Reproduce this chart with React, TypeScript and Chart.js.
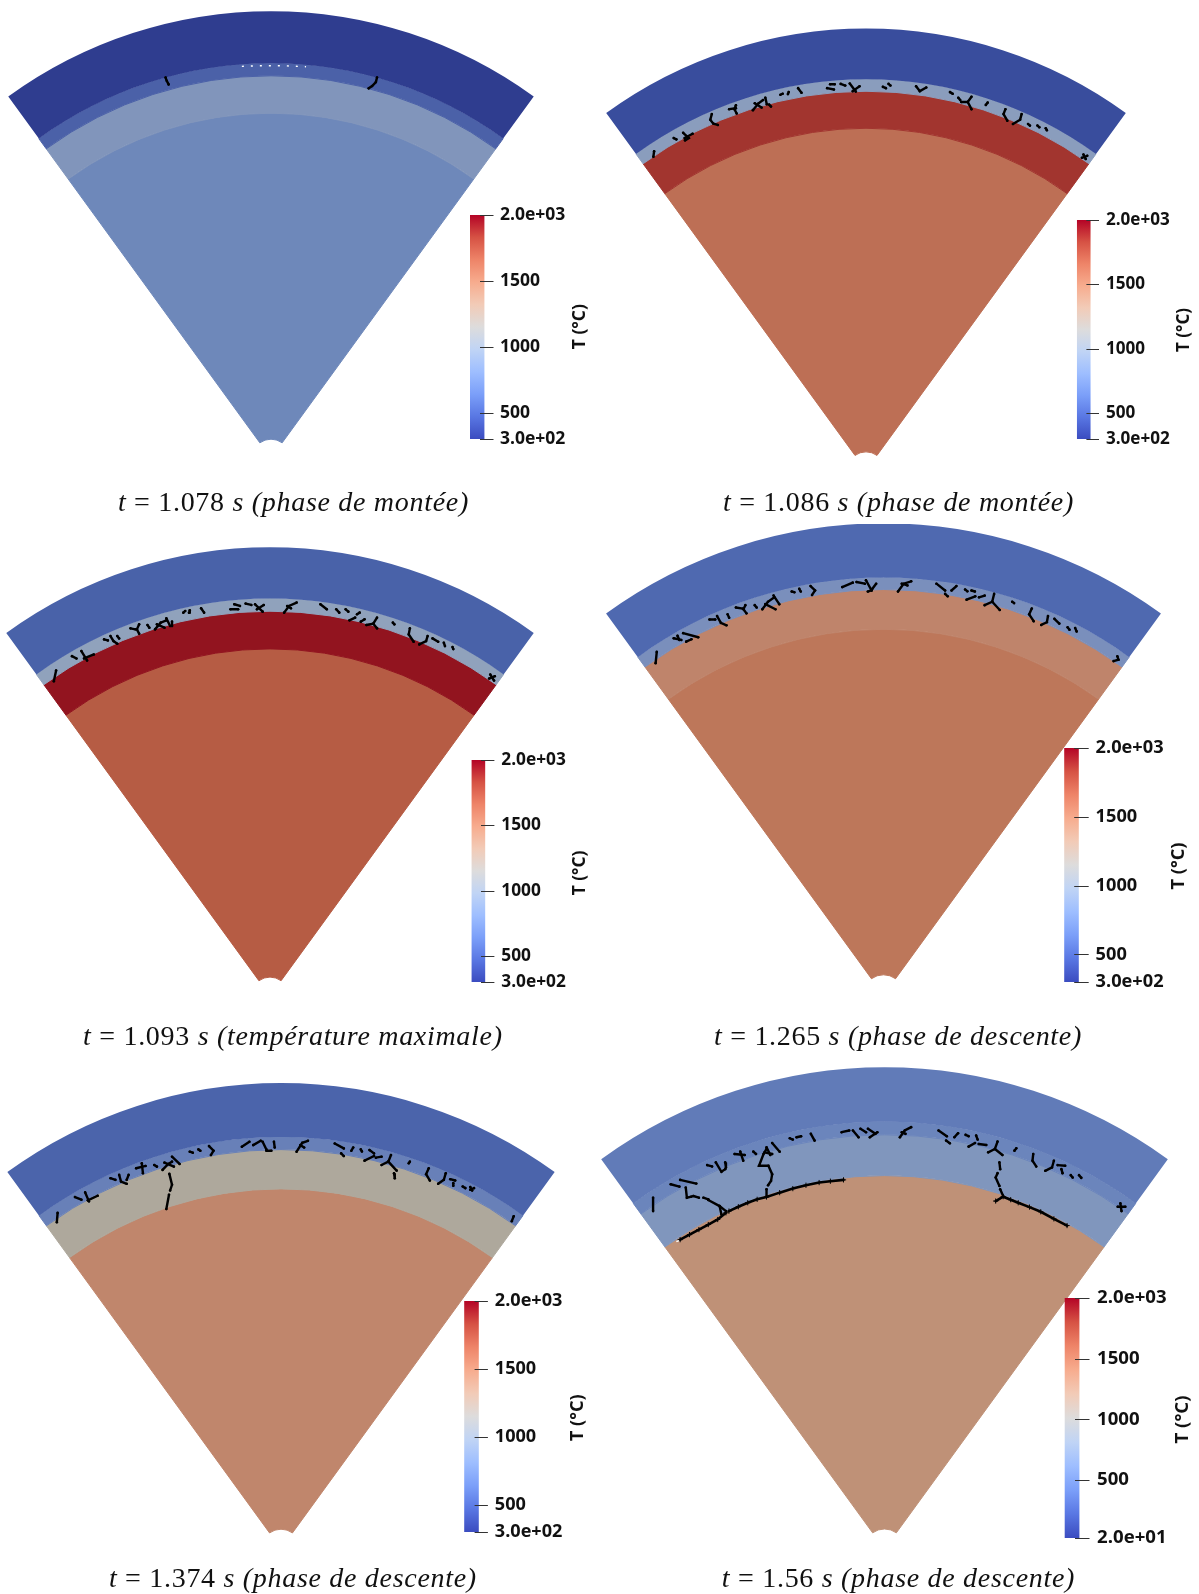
import React, { useEffect, useRef } from "react";
import { Chart, registerables } from "chart.js";

Chart.register(...registerables);

// ---------- data ----------
// ring boundaries: distance from the sector's centre, outermost first
const ringBoundaries1 = [447, 395, 382.4, 345, 19];
const ringBoundaries2 = [442, 391.3, 379.3, 342.3, 18.7];
const ringBoundaries3 = [448.7, 397.4, 384.8, 347.1, 18.9];
const ringBoundaries4 = [472, 417.9, 405.8, 366, 20.5];
const ringBoundaries5 = [465.6, 411.6, 399.1, 359.8, 19.5];
const ringBoundaries6 = [482, 427.4, 414.4, 373.6, 20.2];

const ringColours1 = ["#2f3d8f", "#4b61a8", "#8195bb", "#6e88ba"];
const ringColours2 = ["#394d9d", "#8a9dbd", "#a2352f", "#bd6f55"];
const ringColours3 = ["#4962a9", "#90a2bc", "#92141f", "#b65c44"];
const ringColours4 = ["#4f69b0", "#7a8fbc", "#bf846b", "#bd775a"];
const ringColours5 = ["#4b64ab", "#6880b8", "#aea89c", "#c0866c"];
const ringColours6 = ["#617bb8", "#6b85bc", "#8096bd", "#bf9177"];

const tickValues = [300, 500, 1000, 1500, 2000];
const tickLabels = ["3.0e+02", "500", "1000", "1500", "2.0e+03"];
const tickValuesLast = [20, 500, 1000, 1500, 2000];
const tickLabelsLast = ["2.0e+01", "500", "1000", "1500", "2.0e+03"];
const barTitle = "T (°C)";

const coolWarmStops = ["#3b4cc0", "#5977e3", "#7b9ff9", "#9ebeff", "#c0d4f5", "#dddcdc", "#f2cbb7", "#f7ac8e", "#ee8468", "#d65244", "#b40426"];

const captionValues = ["1.078", "1.086", "1.093", "1.265", "1.374", "1.56"];
const captionPhases = ["(phase de montée)", "(phase de montée)", "(température maximale)", "(phase de descente)", "(phase de descente)", "(phase de descente)"];

// cracks: polylines in image units of each panel's crop
const cracks1 = [
  [[428, 224], [431, 234], [436, 245]],
  [[988, 224], [985, 238], [975, 250], [966, 257]],
];
const cracks2 = [
  [[133, 418], [131, 435]],
  [[185, 378], [192, 382]], [[210, 362], [225, 378], [215, 385]], [[235, 365], [214, 378]],
  [[286, 305], [282, 322], [290, 334], [302, 338]],
  [[332, 290], [350, 287]], [[350, 278], [346, 290], [352, 303]],
  [[395, 293], [410, 272], [422, 262]], [[400, 272], [418, 285]], [[428, 255], [432, 275]], [[438, 276], [443, 282]],
  [[468, 246], [474, 243]], [[490, 238], [488, 244]], [[515, 226], [524, 240]],
  [[592, 226], [610, 230]], [[600, 214], [612, 214]], [[628, 213], [640, 218]], [[652, 212], [668, 236]], [[678, 220], [660, 235]],
  [[740, 222], [748, 226]], [[755, 213], [760, 218]],
  [[828, 220], [838, 235], [855, 224]],
  [[918, 238], [925, 243]], [[940, 255], [945, 262]],
  [[975, 252], [965, 268]], [[948, 268], [965, 268], [975, 290]],
  [[1018, 270], [1013, 277]],
  [[1065, 290], [1060, 305], [1070, 325]], [[1108, 305], [1104, 322], [1085, 335]],
  [[1125, 335], [1130, 340]], [[1150, 340], [1155, 345]], [[1172, 348], [1175, 354]],
  [[1272, 428], [1278, 442]], [[1268, 438], [1282, 432]],
];
const cracks3 = [
  [[138, 408], [132, 440]],
  [[180, 365], [192, 372]], [[205, 350], [220, 378]], [[238, 360], [212, 372]],
  [[265, 315], [275, 318]], [[282, 305], [290, 320], [300, 328]], [[300, 305], [305, 312]],
  [[335, 282], [348, 285]], [[358, 270], [352, 285], [358, 298]], [[380, 272], [385, 280]],
  [[400, 285], [415, 265], [430, 258]], [[405, 270], [425, 280]], [[430, 252], [440, 275]], [[445, 262], [445, 275]],
  [[475, 235], [480, 230]], [[490, 235], [492, 228]], [[522, 222], [530, 235]],
  [[600, 225], [620, 225]], [[610, 210], [625, 215]], [[640, 208], [655, 212]], [[665, 210], [685, 232]], [[688, 212], [670, 225]],
  [[742, 235], [755, 215], [775, 205]], [[750, 215], [760, 222]],
  [[838, 210], [855, 225]], [[880, 225], [888, 235]], [[905, 225], [912, 232]], [[915, 258], [930, 250]], [[935, 240], [942, 235]], [[945, 262], [955, 255]],
  [[988, 250], [978, 268], [960, 272]], [[978, 268], [988, 282]],
  [[1030, 265], [1034, 270]],
  [[1075, 282], [1072, 300], [1085, 322]], [[1122, 305], [1118, 320], [1100, 330]],
  [[1135, 312], [1150, 322]], [[1165, 325], [1168, 335]], [[1188, 338], [1190, 344]],
  [[1288, 420], [1298, 438]], [[1285, 432], [1300, 425]],
];
const cracks4 = [
  [[140, 375], [137, 408]],
  [[185, 335], [205, 340]], [[210, 320], [250, 332]], [[218, 345], [232, 338]], [[195, 328], [200, 340]],
  [[280, 280], [295, 280]], [[300, 270], [310, 290], [325, 297]], [[328, 265], [332, 275]],
  [[350, 245], [368, 248]], [[375, 238], [370, 250], [378, 262]], [[400, 238], [405, 245]],
  [[420, 250], [435, 228], [452, 215]], [[428, 235], [455, 250]], [[450, 210], [465, 235]],
  [[498, 198], [505, 200]], [[518, 190], [522, 198]], [[548, 182], [560, 195], [552, 208]],
  [[632, 185], [660, 172]], [[670, 170], [692, 175]], [[695, 165], [710, 195]], [[722, 175], [712, 190]], [[700, 198], [710, 194]],
  [[780, 198], [795, 175], [815, 168]], [[790, 175], [805, 180]],
  [[882, 175], [905, 195]], [[905, 205], [912, 212]], [[922, 195], [935, 182]], [[958, 192], [964, 197]], [[975, 195], [984, 198]], [[962, 222], [985, 212]], [[995, 215], [1010, 210]],
  [[1035, 205], [1030, 228], [1010, 238]], [[1030, 228], [1050, 252]],
  [[1083, 228], [1088, 232]],
  [[1135, 248], [1128, 265], [1140, 285]], [[1178, 270], [1175, 288], [1160, 296]],
  [[1195, 278], [1208, 292]], [[1230, 303], [1235, 310]], [[1250, 305], [1254, 315]],
  [[1352, 402], [1365, 398], [1362, 388]],
];
const cracks5 = [
  [[142, 420], [140, 448]],
  [[188, 372], [205, 380]], [[215, 358], [225, 385]], [[248, 368], [222, 382]],
  [[282, 315], [295, 320]], [[305, 305], [310, 325], [325, 332]], [[330, 305], [325, 320]],
  [[350, 285], [375, 278]], [[365, 270], [368, 300]], [[398, 275], [405, 280]],
  [[420, 290], [435, 272], [445, 265]], [[425, 268], [450, 280]], [[445, 250], [465, 272]],
  [[492, 235], [500, 238]], [[515, 228], [520, 232]], [[543, 218], [555, 232], [548, 245]],
  [[630, 220], [650, 205]], [[660, 215], [680, 202]], [[685, 205], [695, 228]], [[715, 205], [717, 222]], [[695, 232], [708, 232]],
  [[775, 235], [790, 208], [805, 202]], [[785, 215], [795, 222]],
  [[876, 210], [900, 225]], [[893, 240], [900, 248]], [[920, 232], [925, 222]], [[945, 228], [948, 234]], [[968, 230], [980, 240]], [[955, 262], [980, 248]], [[985, 253], [1000, 250]],
  [[1025, 245], [1018, 265], [1000, 275]], [[1018, 265], [1040, 292]], [[1033, 300], [1035, 315]],
  [[1075, 265], [1072, 270]],
  [[1125, 285], [1118, 303], [1128, 322]], [[1170, 300], [1165, 320], [1150, 332]],
  [[1182, 318], [1195, 322]], [[1190, 330], [1190, 338]], [[1215, 340], [1222, 345]], [[1235, 342], [1240, 352]], [[1245, 345], [1235, 350]],
  [[1345, 445], [1350, 430]],
  [[438, 302], [445, 335], [440, 352]], [[437, 365], [430, 408]],
];
const cracks6 = [
  [[128, 395], [128, 435]],
  [[175, 355], [198, 362]], [[200, 342], [243, 353]],
  [[215, 365], [218, 395], [230, 392]], [[235, 390], [250, 395]], [[262, 395], [275, 400]], [[275, 402], [305, 420], [322, 435]], [[305, 420], [310, 445]],
  [[430, 392], [430, 370]], [[434, 358], [442, 345], [445, 325], [435, 300], [410, 300], [422, 265], [430, 250]],
  [[272, 298], [285, 302]], [[295, 290], [310, 318], [320, 310]], [[320, 290], [322, 305]],
  [[345, 265], [372, 268]], [[360, 258], [368, 285]], [[395, 258], [402, 265]],
  [[425, 260], [445, 265]], [[445, 232], [465, 258]], [[430, 245], [440, 268]],
  [[492, 218], [500, 222]], [[510, 215], [522, 212]], [[548, 205], [558, 225]],
  [[630, 200], [650, 195]], [[660, 195], [675, 215]], [[680, 190], [695, 200]], [[700, 190], [720, 205]], [[705, 215], [725, 200]],
  [[785, 215], [798, 195], [815, 185]], [[790, 200], [800, 205]],
  [[888, 195], [910, 212]], [[908, 225], [918, 233]], [[930, 215], [940, 203]], [[960, 208], [968, 212]], [[988, 210], [992, 222]], [[968, 243], [985, 232]], [[995, 235], [1015, 238]],
  [[1045, 228], [1038, 250], [1020, 260]], [[1038, 250], [1058, 268]],
  [[1090, 255], [1095, 248]],
  [[1140, 265], [1138, 285], [1148, 302]], [[1195, 285], [1190, 305], [1172, 315]],
  [[1205, 298], [1225, 300]], [[1215, 310], [1218, 322]], [[1240, 328], [1245, 335]], [[1262, 328], [1268, 336]],
  [[1365, 422], [1385, 422]], [[1372, 412], [1375, 435]],
  [[1050, 290], [1052, 310]], [[1045, 322], [1040, 335], [1050, 360]], [[1052, 370], [1060, 390]],
];
const mainCrack6 = [
  [[200, 520], [225, 505], [250, 490], [275, 475], [300, 460], [322, 440]],
  [[330, 435], [355, 422], [380, 410], [405, 400], [430, 393], [465, 380], [500, 368], [535, 358], [570, 350], [600, 346], [635, 342]],
  [[1040, 405], [1060, 392], [1080, 401], [1100, 410], [1130, 423], [1160, 437], [1195, 458], [1230, 478]],
];
const whiteSpecks1 = [[[630, 190], [680, 188], [740, 188], [800, 191]]];
const whiteSpecks6 = [[[190, 526], [200, 521]]];

// ---------- layout ----------
const halfAngle = 36;
const panels = [
  { cx: 271, cy: 457.7, rings: ringBoundaries1, colours: ringColours1, cracks: cracks1, main: [], white: whiteSpecks1, crop: [0, 0, 600, 520], bar: [470, 484.5, 215, 439], tick: [480, 493.5], lab: 500, title: [580, 326.7], font: 17.5, cap: [293.4, 501.5], ticks: tickValues, labels: tickLabels },
  { cx: 866.4, cy: 471, rings: ringBoundaries2, colours: ringColours2, cracks: cracks2, main: [], white: [], crop: [600, 10, 599, 520], bar: [1076.9, 1090.6, 219.7, 438.5], tick: [1086.4, 1099], lab: 1105.9, title: [1184, 330], font: 17.1, cap: [898.5, 501.7], ticks: tickValues, labels: tickLabels },
  { cx: 270.2, cy: 995.7, rings: ringBoundaries3, colours: ringColours3, cracks: cracks3, main: [], white: [], crop: [0, 530, 600, 530], bar: [471.5, 485.3, 759.7, 982.3], tick: [481, 494.4], lab: 501.3, title: [579.8, 873], font: 17.3, cap: [292.9, 1036.2], ticks: tickValues, labels: tickLabels },
  { cx: 883.9, cy: 995, clipTop: 524, rings: ringBoundaries4, colours: ringColours4, cracks: cracks4, main: [], white: [], crop: [600, 520, 599, 540], bar: [1064.2, 1078.8, 748, 981.9], tick: [1074.2, 1088.7], lab: 1095.6, title: [1178.6, 866], font: 18.2, cap: [898, 1036], ticks: tickValues, labels: tickLabels },
  { cx: 281.3, cy: 1548.4, rings: ringBoundaries5, colours: ringColours5, cracks: cracks5, main: [], white: [], crop: [0, 1070, 600, 524], bar: [464.2, 478.8, 1300.8, 1532.2], tick: [474.6, 487.9], lab: 494.8, title: [577.9, 1417.7], font: 18.1, cap: [292.9, 1577.6], ticks: tickValues, labels: tickLabels },
  { cx: 884.3, cy: 1549, rings: ringBoundaries6, colours: ringColours6, cracks: cracks6, main: mainCrack6, white: whiteSpecks6, crop: [600, 1060, 599, 534], bar: [1064.6, 1079.5, 1298, 1538], tick: [1075, 1089.5], lab: 1097.1, title: [1183.2, 1419.5], font: 18.6, cap: [898.5, 1578.4], ticks: tickValuesLast, labels: tickLabelsLast },
];

function useChart(make: () => any) {
  const ref = useRef<HTMLCanvasElement | null>(null);
  useEffect(() => {
    const chart = new Chart(ref.current as any, make());
    return () => chart.destroy();
  }, []);
  return ref;
}

const base = { responsive: false, animation: false, events: [], devicePixelRatio: 1 };

function Sector({ p }: any) {
  const R = p.rings[0];
  const inner = p.rings[p.rings.length - 1];
  const c = inner / R;
  const offY = (1 + Math.cos((halfAngle * Math.PI) / 180) * c) / 2;
  const W = Math.ceil(2 * R * Math.sin((halfAngle * Math.PI) / 180)) + 6;
  const H = Math.ceil(R * (1 - c * 0.8)) + 10;
  const left = Math.round(p.cx - W / 2);
  const top = Math.round(p.cy - offY * R - H / 2);
  const ref = useChart(() => ({
    type: "doughnut",
    data: {
      labels: ["couche"],
      datasets: p.colours.map((col: string, i: number) => ({
        data: [1],
        weight: p.rings[i] - p.rings[i + 1],
        backgroundColor: col,
        borderColor: col,
        borderWidth: i === 0 ? 0 : 1,
        borderAlign: "center",
      })),
    },
    options: {
      ...base,
      radius: R,
      cutout: `${c * 100}%`,
      rotation: -halfAngle,
      circumference: 2 * halfAngle,
      layout: { padding: 0 },
      plugins: { legend: { display: false }, tooltip: { enabled: false } },
    },
  }));
  const clip = p.clipTop !== undefined ? `inset(${p.clipTop - top}px 0 0 0)` : undefined;
  return <canvas ref={ref} width={W} height={H} style={{ position: "absolute", left, top, width: W, height: H, clipPath: clip }} />;
}

function Cracks({ p }: any) {
  const [x, y, w, h] = p.crop;
  const points = (pts: number[][]) => pts.map(([a, b]) => ({ x: a, y: b }));
  const line = (pts: number[][], main: boolean) => ({
    data: points(pts),
    showLine: true,
    borderColor: "#000",
    borderWidth: main ? 2.6 : 2.4,
    borderCapStyle: "round",
    pointRadius: main ? 2.6 : 1.3,
    pointStyle: main ? "cross" : "circle",
    backgroundColor: "#000",
    pointBorderColor: "#000",
    pointBorderWidth: main ? 1 : 0,
  });
  const speck = (pts: number[][]) => ({
    data: points(pts),
    showLine: true,
    borderColor: "#fff",
    borderWidth: 1.4,
    borderDash: pts.length > 2 ? [2, 7] : [],
    pointRadius: 0,
  });
  const ref = useChart(() => ({
    type: "scatter",
    data: {
      datasets: [
        ...p.cracks.map((c: number[][]) => line(c, false)),
        ...p.main.map((c: number[][]) => line(c, true)),
        ...p.white.map((c: number[][]) => speck(c)),
      ],
    },
    options: {
      ...base,
      layout: { padding: 0 },
      plugins: { legend: { display: false }, tooltip: { enabled: false } },
      scales: {
        x: { display: false, type: "linear", min: 0, max: 1568 },
        y: { display: false, type: "linear", min: 0, max: 1560, reverse: true },
      },
    },
  }));
  return <canvas ref={ref} width={w} height={h} style={{ position: "absolute", left: x, top: y, width: w, height: h, pointerEvents: "none" }} />;
}

function ColourBar({ p }: any) {
  const [bx0, bx1, by0, by1] = p.bar;
  const pad = 14;
  const left = Math.floor(bx0);
  const top = Math.round(by0) - pad;
  const W = Math.ceil(p.title[0] + 14 - left);
  const H = Math.round(by1) - Math.round(by0) + 2 * pad;
  const fontFamily = "'Open Sans', sans-serif";
  const overlay = {
    id: "barOverlay",
    afterDatasetsDraw(chart: any) {
      const { ctx, scales } = chart;
      ctx.save();
      ctx.strokeStyle = "#333";
      ctx.lineWidth = 1;
      p.ticks.forEach((v: number) => {
        const py = Math.round(scales.y.getPixelForValue(v)) + 0.5;
        ctx.beginPath();
        ctx.moveTo(p.tick[0] - left, py);
        ctx.lineTo(p.tick[1] - left, py);
        ctx.stroke();
      });
      ctx.fillStyle = "#111";
      ctx.font = `700 ${p.font}px ${fontFamily}`;
      ctx.textAlign = "center";
      ctx.textBaseline = "middle";
      ctx.translate(p.title[0] - left, p.title[1] - top);
      ctx.rotate(-Math.PI / 2);
      ctx.fillText(barTitle, 0, 0);
      ctx.restore();
    },
  };
  const ref = useChart(() => ({
    type: "bar",
    data: {
      labels: ["T"],
      datasets: [
        {
          data: [[p.ticks[0], p.ticks[p.ticks.length - 1]]],
          backgroundColor: (ctx: any) => {
            const area = ctx.chart.chartArea;
            if (!area) return coolWarmStops[5];
            const g = ctx.chart.ctx.createLinearGradient(0, area.bottom, 0, area.top);
            coolWarmStops.forEach((s, i) => g.addColorStop(i / (coolWarmStops.length - 1), s));
            return g;
          },
          borderWidth: 0,
          barPercentage: 1,
          categoryPercentage: 1,
        },
      ],
    },
    plugins: [overlay],
    options: {
      ...base,
      layout: { padding: { top: pad, bottom: pad, left: bx0 - left, right: 0 } },
      plugins: { legend: { display: false }, tooltip: { enabled: false } },
      scales: {
        x: { display: false },
        y: {
          position: "right",
          type: "linear",
          min: p.ticks[0],
          max: p.ticks[p.ticks.length - 1],
          afterFit: (s: any) => {
            s.width = W - (bx1 - left);
            s.paddingTop = 0;
            s.paddingBottom = 0;
          },
          afterBuildTicks: (s: any) => {
            s.ticks = p.ticks.map((value: number) => ({ value }));
          },
          border: { display: false },
          grid: { display: false, drawTicks: false, tickLength: 0 },
          ticks: {
            autoSkip: false,
            padding: p.lab - bx1,
            color: "#111",
            font: { family: fontFamily, size: p.font, weight: "700" },
            callback: (v: number) => p.labels[p.ticks.indexOf(v)],
          },
        },
      },
    },
  }));
  return <canvas ref={ref} width={W} height={H} style={{ position: "absolute", left, top, width: W, height: H }} />;
}

function Caption({ p, i }: any) {
  return (
    <div
      style={{
        position: "absolute",
        left: p.cap[0] - 300,
        top: p.cap[1] - 17,
        width: 600,
        height: 34,
        lineHeight: "34px",
        textAlign: "center",
        fontFamily: "'Liberation Serif', serif",
        fontSize: 28,
        letterSpacing: "0.7px",
        color: "#111",
        whiteSpace: "pre",
      }}
    >
      <i>t</i>
      {` = ${captionValues[i]} `}
      <i>{`s ${captionPhases[i]}`}</i>
    </div>
  );
}

export default function App() {
  return (
    <div style={{ position: "absolute", left: 0, top: 0, width: 1199, height: 1594, background: "#fff", overflow: "hidden" }}>
      {panels.map((p, i) => (
        <React.Fragment key={i}>
          <Sector p={p} />
          <ColourBar p={p} />
          <Cracks p={p} />
          <Caption p={p} i={i} />
        </React.Fragment>
      ))}
    </div>
  );
}
